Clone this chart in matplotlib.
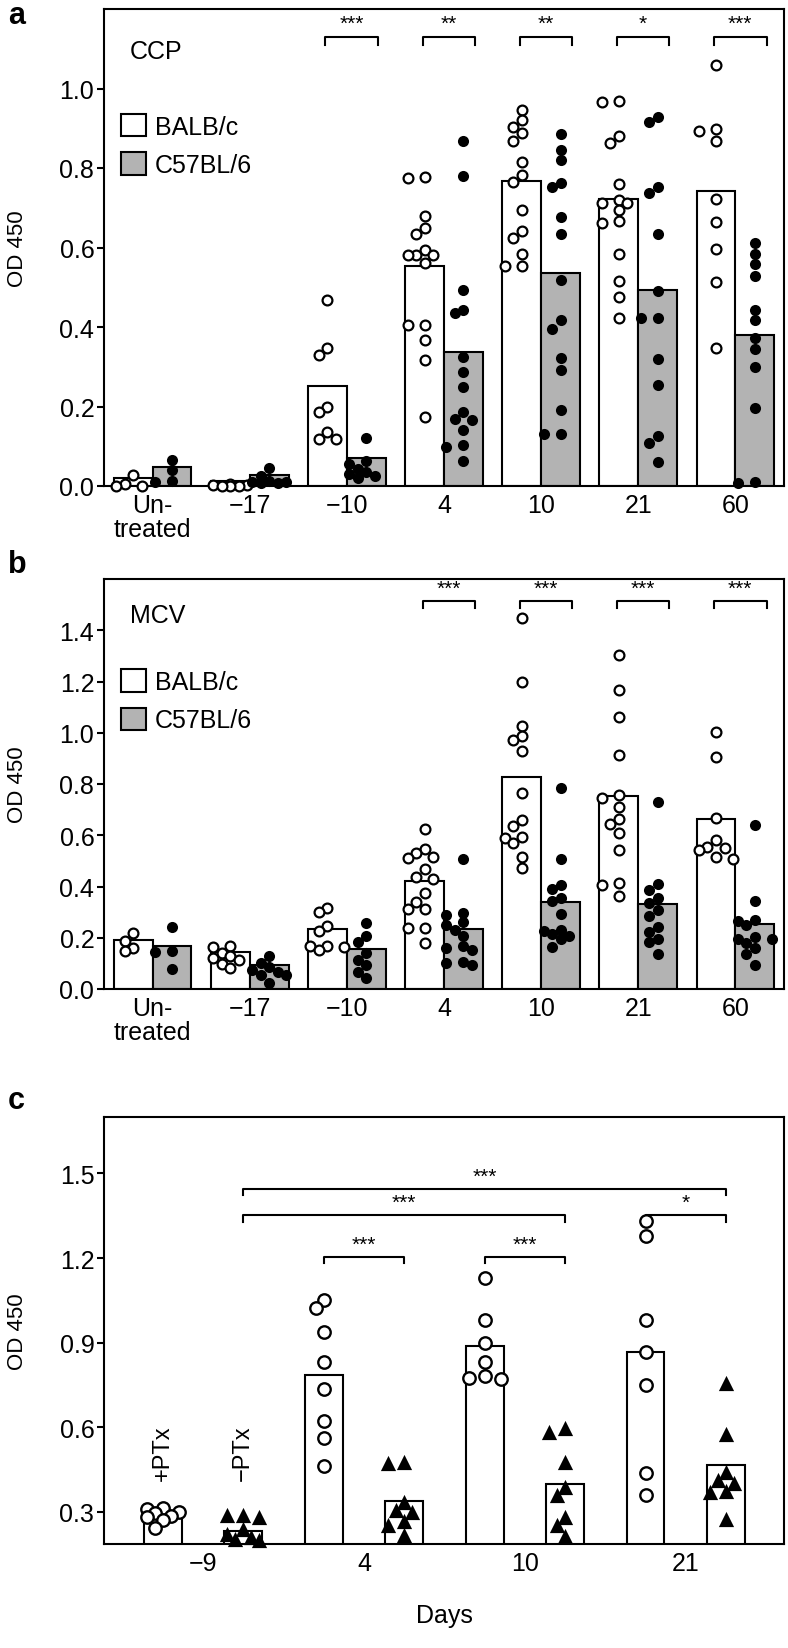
import matplotlib

matplotlib.use("Agg")
import matplotlib.pyplot as plt
import numpy as np
from matplotlib.patches import Patch

plt.rcParams["font.family"] = ["Liberation Sans Narrow", "Liberation Sans", "DejaVu Sans"]
plt.rcParams["axes.linewidth"] = 1.5

# ---- data ----
AB_CATEGORIES = ["Un-\ntreated", "\u221217", "\u221210", "4", "10", "21", "60"]
STRAINS = ["BALB/c", "C57BL/6"]

CCP_BALB_BARS = [0.02, 0.013, 0.252, 0.553, 0.768, 0.721, 0.743]
CCP_B6_BARS = [0.047, 0.027, 0.071, 0.338, 0.535, 0.492, 0.38]
CCP_BALB_POINTS = [
    [0.027, 0.005, 0.0, 0.0],
    [0.006, 0.002, 0.0, 0.0, 0.003, 0.0],
    [0.467, 0.347, 0.329, 0.2, 0.185, 0.136, 0.118, 0.118],
    [0.777, 0.774, 0.68, 0.65, 0.635, 0.593, 0.582, 0.582, 0.58, 0.562, 0.405, 0.405, 0.367, 0.316, 0.173],
    [0.945, 0.922, 0.903, 0.887, 0.869, 0.816, 0.783, 0.765, 0.695, 0.642, 0.624, 0.584, 0.553, 0.553],
    [0.969, 0.965, 0.881, 0.863, 0.759, 0.719, 0.712, 0.711, 0.695, 0.666, 0.662, 0.584, 0.516, 0.476, 0.422],
    [1.06, 0.898, 0.892, 0.867, 0.721, 0.665, 0.595, 0.512, 0.347],
]
CCP_B6_POINTS = [
    [0.065, 0.04, 0.012, 0.01],
    [0.045, 0.025, 0.012, 0.01, 0.008, 0.008, 0.01],
    [0.121, 0.062, 0.056, 0.044, 0.034, 0.03, 0.025, 0.02],
    [0.869, 0.779, 0.494, 0.443, 0.434, 0.325, 0.287, 0.249, 0.187, 0.169, 0.165, 0.14, 0.103, 0.098, 0.062],
    [0.885, 0.845, 0.821, 0.763, 0.752, 0.677, 0.635, 0.518, 0.418, 0.396, 0.323, 0.293, 0.191, 0.13, 0.13],
    [0.929, 0.916, 0.752, 0.736, 0.633, 0.491, 0.423, 0.423, 0.32, 0.253, 0.127, 0.109, 0.06],
    [0.612, 0.584, 0.558, 0.529, 0.443, 0.418, 0.373, 0.345, 0.299, 0.196, 0.009, 0.007],
]
CCP_SIG_GROUPS = [2, 3, 4, 5, 6]
CCP_SIG_STARS = ["***", "**", "**", "*", "***"]

MCV_BALB_BARS = [0.193, 0.144, 0.234, 0.422, 0.829, 0.754, 0.663]
MCV_B6_BARS = [0.166, 0.092, 0.156, 0.234, 0.34, 0.331, 0.254]
MCV_BALB_POINTS = [
    [0.219, 0.189, 0.16, 0.148],
    [0.166, 0.164, 0.142, 0.13, 0.122, 0.112, 0.098, 0.083],
    [0.316, 0.299, 0.245, 0.228, 0.168, 0.166, 0.162, 0.154],
    [0.624, 0.548, 0.529, 0.515, 0.512, 0.47, 0.438, 0.43, 0.373, 0.34, 0.314, 0.314, 0.24, 0.24, 0.178],
    [1.447, 1.198, 1.026, 0.986, 0.971, 0.927, 0.766, 0.659, 0.636, 0.595, 0.588, 0.568, 0.515, 0.473],
    [1.304, 1.167, 1.061, 0.915, 0.757, 0.746, 0.71, 0.663, 0.645, 0.607, 0.544, 0.414, 0.406, 0.361],
    [1.002, 0.906, 0.666, 0.58, 0.556, 0.55, 0.544, 0.515, 0.509],
]
MCV_B6_POINTS = [
    [0.243, 0.148, 0.146, 0.077],
    [0.13, 0.103, 0.086, 0.075, 0.065, 0.053, 0.053, 0.024],
    [0.257, 0.207, 0.183, 0.142, 0.112, 0.095, 0.067, 0.041],
    [0.509, 0.296, 0.29, 0.26, 0.249, 0.231, 0.207, 0.166, 0.16, 0.154, 0.107, 0.103, 0.095],
    [0.785, 0.509, 0.406, 0.391, 0.355, 0.343, 0.292, 0.231, 0.228, 0.213, 0.205, 0.195, 0.162],
    [0.73, 0.408, 0.385, 0.355, 0.337, 0.308, 0.284, 0.243, 0.221, 0.195, 0.183, 0.138],
    [0.641, 0.343, 0.269, 0.264, 0.249, 0.201, 0.195, 0.195, 0.178, 0.16, 0.136, 0.095],
]
MCV_SIG_GROUPS = [3, 4, 5, 6]
MCV_SIG_STARS = ["***", "***", "***", "***"]

# panel c: bars in order (+PTx, -PTx) at -9, then open/filled pairs at 4, 10, 21
C_DAYS = ["\u22129", "4", "10", "21"]
C_BARS = [0.289, 0.233, 0.785, 0.338, 0.889, 0.399, 0.866, 0.466]
C_POINTS = [
    [0.313, 0.31, 0.30, 0.295, 0.285, 0.28, 0.27, 0.241],
    [0.29, 0.29, 0.28, 0.24, 0.22, 0.21, 0.205, 0.20],
    [1.05, 1.023, 0.937, 0.831, 0.734, 0.622, 0.561, 0.462],
    [0.475, 0.473, 0.336, 0.308, 0.299, 0.269, 0.255, 0.219],
    [1.13, 0.981, 0.90, 0.83, 0.78, 0.775, 0.77],
    [0.598, 0.584, 0.477, 0.388, 0.358, 0.28, 0.252, 0.215],
    [1.33, 1.279, 0.981, 0.867, 0.748, 0.436, 0.361],
    [0.756, 0.575, 0.442, 0.414, 0.403, 0.375, 0.372, 0.274],
]
C_TREATMENT = ["+PTx", "\u2212PTx"]
C_SIG_FROM = [1, 1, 6, 2, 4]
C_SIG_TO = [7, 5, 7, 3, 5]
C_SIG_LEVEL = [1.445, 1.351, 1.351, 1.205, 1.205]
C_SIG_STARS = ["***", "***", "*", "***", "***"]

GRAY = "#b3b3b3"
W, H = 788, 1649
PLAIN = ["Liberation Sans", "DejaVu Sans"]


def px_axes(fig, left, top, right, bottom):
    return fig.add_axes([left / W, 1 - bottom / H, (right - left) / W, (bottom - top) / H])


def swarm_x(ax, x_center, values, step_px, min_dist):
    # dodge overlapping markers sideways in pixel space, at most two steps out
    trans = ax.transData
    inv = trans.inverted()
    cx = trans.transform((x_center, 0))[0]
    xs = np.zeros(len(values))
    placed = []
    for i in np.argsort(values)[::-1]:
        py = trans.transform((x_center, values[i]))[1]
        best, best_d = cx, -1.0
        for k in [0, -1, 1, -2, 2]:
            px = cx + k * step_px
            d = min([np.hypot(px - qx, py - qy) for qx, qy in placed], default=1e9)
            if d >= min_dist:
                best = px
                break
            if d > best_d:
                best, best_d = px, d
        placed.append((best, py))
        xs[i] = inv.transform((best, py))[0]
    return xs


def style_axes(ax):
    ax.tick_params(axis="y", direction="out", length=5, width=1.5, labelsize=18, pad=2)
    ax.tick_params(axis="x", length=0, labelsize=18, pad=5)
    for spine in ax.spines.values():
        spine.set_linewidth(1.5)


def bracket(ax, x0, x1, y, drop, stars):
    ax.plot([x0, x0, x1, x1], [y - drop, y, y, y - drop], color="black", lw=1.5, clip_on=False)
    ax.text((x0 + x1) / 2, y + drop * 0.5, stars, ha="center", va="bottom", fontsize=15)


def strain_panel(ax, title, ylim, yticks, balb_bars, b6_bars, balb_pts, b6_pts, sig_groups, sig_stars, sig_y):
    x = np.arange(len(AB_CATEGORIES))
    ax.set_xlim(-0.5, len(AB_CATEGORIES) - 0.5)
    ax.set_ylim(*ylim)
    ax.bar(x - 0.2, balb_bars, width=0.4, color="white", edgecolor="black", lw=1.5, zorder=2)
    ax.bar(x + 0.2, b6_bars, width=0.4, color=GRAY, edgecolor="black", lw=1.5, zorder=2)
    for i in range(len(x)):
        xs = swarm_x(ax, x[i] - 0.2, balb_pts[i], 8.5, 9)
        ax.scatter(xs, balb_pts[i], s=50, facecolor="white", edgecolor="black", lw=1.6, zorder=3, clip_on=False)
        xs = swarm_x(ax, x[i] + 0.2, b6_pts[i], 8.5, 9)
        ax.scatter(xs, b6_pts[i], s=64, color="black", lw=0, zorder=3, clip_on=False)
    ax.set_xticks(x)
    ax.set_xticklabels(AB_CATEGORIES, linespacing=1.0)
    ax.set_yticks(yticks)
    ax.set_yticklabels([f"{v:.1f}" for v in yticks])
    drop = (ylim[1] - ylim[0]) * 0.018
    for g, stars in zip(sig_groups, sig_stars):
        bracket(ax, g - 0.22, g + 0.32, sig_y, drop, stars)
    ax.text(0.038, 0.912, title, transform=ax.transAxes, fontsize=18, va="center")
    handles = [Patch(facecolor="white", edgecolor="black", lw=1.5), Patch(facecolor=GRAY, edgecolor="black", lw=1.5)]
    ax.legend(handles, STRAINS, loc="upper left", bbox_to_anchor=(0.025, 0.78), frameon=False, fontsize=18,
              handlelength=1.0, handleheight=1.0, handletextpad=0.35, labelspacing=0.55, borderaxespad=0,
              borderpad=0)
    ax.set_ylabel("OD 450", fontsize=16, family=PLAIN)
    ax.yaxis.set_label_coords(-0.112, 0.5)
    style_axes(ax)


fig = plt.figure(figsize=(W / 100, H / 100), dpi=100)

ax_a = px_axes(fig, 104, 10, 784, 487)
strain_panel(ax_a, "CCP", (0, 1.2), [0.0, 0.2, 0.4, 0.6, 0.8, 1.0], CCP_BALB_BARS, CCP_B6_BARS,
             CCP_BALB_POINTS, CCP_B6_POINTS, CCP_SIG_GROUPS, CCP_SIG_STARS, 1.13)

ax_b = px_axes(fig, 104, 580, 784, 990)
strain_panel(ax_b, "MCV", (0, 1.6), [0.0, 0.2, 0.4, 0.6, 0.8, 1.0, 1.2, 1.4], MCV_BALB_BARS, MCV_B6_BARS,
             MCV_BALB_POINTS, MCV_B6_POINTS, MCV_SIG_GROUPS, MCV_SIG_STARS, 1.514)

# panel c
ax_c = px_axes(fig, 104, 1118, 784, 1545)
xc = np.arange(len(C_BARS))
ax_c.set_xlim(-0.73, len(C_BARS) - 0.28)
ax_c.set_ylim(0.186, 1.70)
ax_c.bar(xc, C_BARS, width=0.47, color="white", edgecolor="black", lw=1.5, zorder=2)
for i in xc:
    xs = swarm_x(ax_c, i, C_POINTS[i], 8, 10)
    if i % 2 == 0:
        ax_c.scatter(xs, C_POINTS[i], s=80, facecolor="white", edgecolor="black", lw=1.7, zorder=3, clip_on=False)
    else:
        ax_c.scatter(xs, C_POINTS[i], marker="^", s=120, color="black", lw=0, zorder=3, clip_on=False)
for i, label in enumerate(C_TREATMENT):
    ax_c.text(i, 0.51, label, rotation=90, ha="center", va="center", fontsize=17, family=PLAIN)
ax_c.set_xticks(np.arange(len(C_DAYS)) * 2 + 0.5)
ax_c.set_xticklabels(C_DAYS)
ax_c.set_yticks([0.3, 0.6, 0.9, 1.2, 1.5])
ax_c.set_yticklabels(["0.3", "0.6", "0.9", "1.2", "1.5"])
for a, b, y, stars in zip(C_SIG_FROM, C_SIG_TO, C_SIG_LEVEL, C_SIG_STARS):
    bracket(ax_c, a, b, y, 0.022, stars)
ax_c.set_xlabel("Days", fontsize=18, labelpad=20)
ax_c.set_ylabel("OD 450", fontsize=16, family=PLAIN)
ax_c.yaxis.set_label_coords(-0.112, 0.5)
style_axes(ax_c)

for label, y in zip(["a", "b", "c"], [16, 565, 1101]):
    fig.text(8 / W, 1 - y / H, label, fontsize=22, fontweight="bold", va="center", ha="left", family=PLAIN)

fig.savefig("out.png", dpi=100)
